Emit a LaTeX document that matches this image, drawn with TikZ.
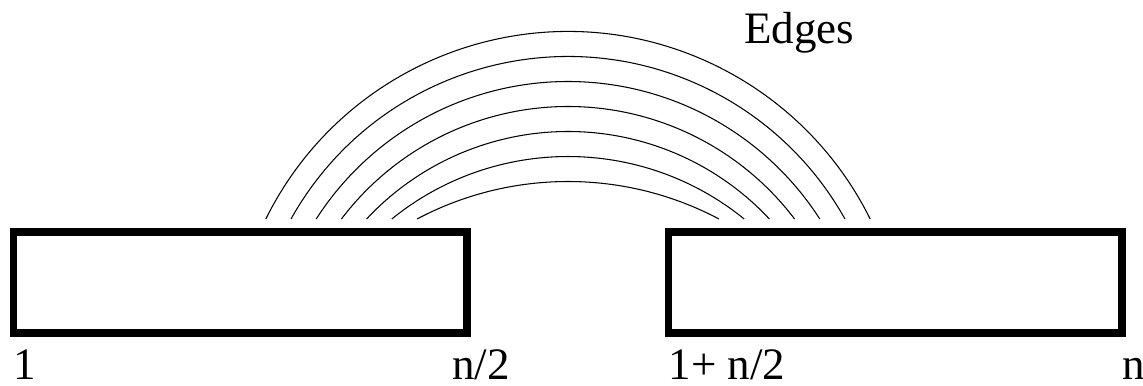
\documentclass[tikz,border=0pt]{standalone}
\usepackage{fontspec}
\setmainfont{Liberation Serif}
\usetikzlibrary{positioning}
\tikzset{
  half/.style={draw, line width=4.25pt, inner sep=0pt, minimum width=9.07cm, minimum height=2.02cm},
  edge arc/.style={line width=0.6pt},
  tag/.style={inner sep=0pt, anchor=base west, font=\fontsize{25.6}{30}\selectfont},
}

\begin{document}
\begin{tikzpicture}[x=2cm, y=2cm]
  \useasboundingbox (0,0) rectangle (11.43,3.85);

  % The two halves
  \node[half] (lefthalf) at (2.4025,1.025) {};
  \node[half] (righthalf) at (8.9525,1.025) {};

  % Index labels
  \node[tag] (first) at (0.135,0.06) {1};
  \node[tag] (mid) at (4.52,0.06) {n/2};
  \node[tag] (midnext) at (6.685,0.06) {1+ n/2};
  \node[tag] (last) at (11.22,0.06) {n};

  % Edges between the halves
  \foreach \k in {0,...,6} {
    \pgfmathsetmacro{\h}{1.51 + 0.252*\k}
    \pgfmathsetmacro{\s}{0.375 + 0.25*\k}
    \pgfmathsetmacro{\R}{(\h*\h + \s*\s)/(2*\s)}
    \pgfmathsetmacro{\t}{asin(\h/\R)}
    \draw[edge arc] (5.68-\h,1.66) arc[start angle=90+\t, end angle=90-\t, radius=\R];
  }
  \node[tag] (edges) at (7.44,3.42) {Edges};
\end{tikzpicture}
\end{document}
